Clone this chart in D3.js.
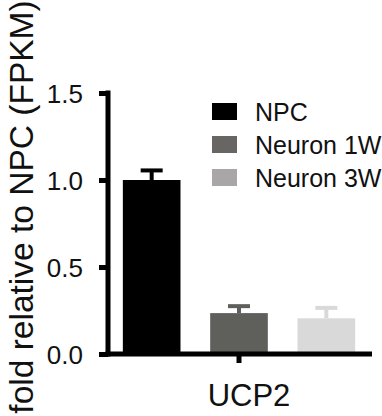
<!DOCTYPE html>
<html>
<head>
<meta charset="utf-8">
<script src="https://cdn.jsdelivr.net/npm/d3@7"></script>
<style>
  body { margin: 0; background: #fff; }
  svg text { font-family: "Liberation Sans", Arial, sans-serif; fill: #111; }
</style>
</head>
<body>
<svg width="382" height="416"></svg>
<script>
// data
var gene = "UCP2";
var series = ["NPC", "Neuron 1W", "Neuron 3W"];
var means = [1.00, 0.235, 0.205];
var errs = [0.055, 0.04, 0.06];
var barColors = ["#000000", "#5f5f5c", "#d9d9d9"];
var legendColors = ["#000000", "#676662", "#a8a6a6"];
var yTicks = [0, 0.5, 1.0, 1.5];

var svg = d3.select("svg");

var y = d3.scaleLinear().domain([0, 1.5]).range([354, 93]);
var x = d3.scaleBand().domain(series).range([108, 370])
  .paddingInner(0.34).paddingOuter(0.17);

// bars
svg.selectAll("rect.bar")
  .data(series)
  .enter()
  .append("rect")
  .attr("class", "bar")
  .attr("x", function(d) { return x(d); })
  .attr("width", x.bandwidth())
  .attr("y", function(d, i) { return y(means[i]); })
  .attr("height", function(d, i) { return y(0) - y(means[i]); })
  .style("fill", function(d, i) { return barColors[i]; });

// error bars (upper only)
var eb = svg.selectAll("g.err")
  .data(series)
  .enter()
  .append("g")
  .attr("class", "err");
eb.append("line")
  .attr("x1", function(d) { return x(d) + x.bandwidth() / 2; })
  .attr("x2", function(d) { return x(d) + x.bandwidth() / 2; })
  .attr("y1", function(d, i) { return y(means[i]); })
  .attr("y2", function(d, i) { return y(means[i] + errs[i]); })
  .style("stroke", function(d, i) { return barColors[i]; })
  .style("stroke-width", 4);
eb.append("line")
  .attr("x1", function(d) { return x(d) + x.bandwidth() / 2 - 11; })
  .attr("x2", function(d) { return x(d) + x.bandwidth() / 2 + 11; })
  .attr("y1", function(d, i) { return y(means[i] + errs[i]); })
  .attr("y2", function(d, i) { return y(means[i] + errs[i]); })
  .style("stroke", function(d, i) { return barColors[i]; })
  .style("stroke-width", 4);

// y axis
var yAxis = d3.axisLeft(y).tickValues(yTicks)
  .tickFormat(d3.format(".1f")).tickSizeInner(9).tickSizeOuter(0).tickPadding(16);
var gy = svg.append("g").attr("transform", "translate(108,0)").call(yAxis);
gy.select(".domain").attr("d", "M0," + (y(1.5) - 2.5) + "V" + (y(0) + 2.5))
  .style("stroke", "#000").style("stroke-width", 5);
gy.selectAll(".tick line").style("stroke", "#000").style("stroke-width", 5);
gy.selectAll(".tick text").style("font-size", "26px").attr("dy", "0.36em");

// x axis
var gx = svg.append("g").attr("transform", "translate(0," + y(0) + ")");
gx.append("line").attr("x1", 105.5).attr("x2", 372)
  .style("stroke", "#000").style("stroke-width", 5);
var mid = x(series[1]) + x.bandwidth() / 2;
gx.append("line").attr("x1", mid).attr("x2", mid).attr("y1", 0).attr("y2", 9)
  .style("stroke", "#000").style("stroke-width", 5);
gx.append("text").attr("x", mid + 10).attr("y", 52)
  .attr("text-anchor", "middle").style("font-size", "31px").text(gene);

// y title
svg.append("text")
  .attr("transform", "translate(33,207) rotate(-90)")
  .attr("text-anchor", "middle")
  .style("font-size", "33.5px")
  .text("fold relative to NPC (FPKM)");

// legend
var lg = svg.selectAll("g.legend")
  .data(series)
  .enter()
  .append("g")
  .attr("class", "legend")
  .attr("transform", function(d, i) { return "translate(212," + (103 + i * 33) + ")"; });
lg.append("rect").attr("width", 25).attr("height", 17)
  .style("fill", function(d, i) { return legendColors[i]; });
lg.append("text").attr("x", 43).attr("y", 17.5)
  .style("font-size", "25px").text(function(d) { return d; });
</script>
</body>
</html>
